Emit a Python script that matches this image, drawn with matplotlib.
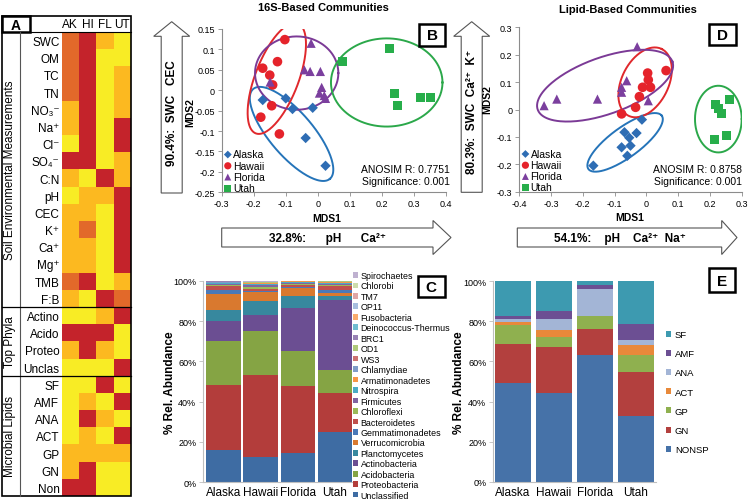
import numpy as np
import matplotlib
matplotlib.use('Agg')
import matplotlib.pyplot as plt
from matplotlib.colors import ListedColormap
from matplotlib.patches import Rectangle, Polygon
from matplotlib.ticker import FuncFormatter

plt.rcParams['font.family'] = ['Liberation Sans', 'DejaVu Sans']

# ---------------- data ----------------
sites = ['Alaska', 'Hawaii', 'Florida', 'Utah']
site_codes = ['AK', 'HI', 'FL', 'UT']

# panel A: heatmap levels (0 = yellow, 1 = gold, 2 = orange, 3 = red)
heat_rows = ['SWC', 'OM', 'TC', 'TN', 'NO₃⁻', 'Na⁺', 'Cl⁻', 'SO₄⁻', 'C:N', 'pH',
             'CEC', 'K⁺', 'Ca⁺', 'Mg⁺', 'TMB', 'F:B',
             'Actino', 'Acido', 'Proteo', 'Unclas',
             'SF', 'AMF', 'ANA', 'ACT', 'GP', 'GN', 'Non']
heat_ak = [2, 2, 2, 2, 1, 1, 0, 3, 1, 0, 1, 1, 1, 1, 2, 1, 0, 3, 1, 0, 0, 0, 0, 0, 1, 1, 3]
heat_hi = [3, 3, 3, 3, 3, 3, 3, 3, 0, 1, 1, 2, 1, 1, 3, 0, 0, 3, 3, 0, 0, 1, 3, 1, 1, 3, 3]
heat_fl = [1, 0, 0, 0, 0, 0, 0, 0, 3, 1, 0, 0, 0, 0, 0, 3, 1, 3, 1, 0, 3, 0, 1, 0, 1, 0, 0]
heat_ut = [0, 0, 1, 1, 1, 3, 3, 1, 1, 3, 3, 3, 3, 3, 1, 2, 3, 0, 0, 3, 0, 3, 0, 3, 1, 0, 0]
heat_colors = ['#F8EC25', '#FCB920', '#E2692A', '#C4232B']

# panel B: 16S NMDS
b_alaska_x = [-0.172, -0.100, -0.079, -0.016, -0.038, 0.024]
b_alaska_y = [-0.024, -0.020, -0.046, -0.043, -0.117, -0.185]
b_hawaii_x = [-0.103, -0.126, -0.172, -0.150, -0.141, -0.144, -0.178, -0.120]
b_hawaii_y = [0.124, 0.070, 0.054, 0.037, 0.013, -0.038, -0.066, -0.107]
b_florida_x = [-0.021, -0.042, -0.024, 0.008, 0.012, 0.005, 0.020, 0.024, -0.149]
b_florida_y = [0.115, 0.050, 0.046, 0.046, 0.007, -0.007, -0.013, -0.020, 0.020]
b_utah_x = [0.078, 0.225, 0.238, 0.248, 0.319, 0.352]
b_utah_y = [0.070, 0.103, -0.008, -0.038, -0.017, -0.017]
# ellipses: centre, semi-axis vector 1, semi-axis vector 2 (data units)
b_ell_alaska = [(-0.082, -0.107), (0.1197, -0.110), (0.0515, 0.0344)]
b_ell_hawaii = [(-0.128, 0.029), (0.0656, 0.1347), (0.0632, -0.0189)]
b_ell_florida = [(-0.066, 0.042), (0.130, 0.0), (0.0, 0.0898)]
b_ell_utah = [(0.215, 0.019), (0.174, 0.0), (0.0, 0.108)]

# panel D: lipid NMDS
d_alaska_x = [-0.014, -0.069, -0.031, -0.054, -0.078, -0.050, -0.060, -0.167]
d_alaska_y = [-0.037, -0.083, -0.086, -0.103, -0.138, -0.132, -0.169, -0.205]
d_hawaii_x = [0.062, 0.004, 0.006, -0.012, 0.013, -0.022, -0.034, -0.078]
d_hawaii_y = [0.142, 0.133, 0.108, 0.081, 0.081, 0.047, 0.008, -0.016]
d_florida_x = [-0.029, -0.062, -0.078, -0.078, 0.006, -0.154, -0.282, -0.322]
d_florida_y = [0.229, 0.105, 0.081, 0.063, 0.032, 0.038, 0.038, 0.014]
d_utah_x = [0.261, 0.219, 0.226, 0.237, 0.251, 0.213]
d_utah_y = [0.038, 0.020, 0.002, -0.016, -0.096, -0.111]
d_ell_alaska = [(-0.067, -0.120), (0.1154, 0.0974), (0.0278, -0.0443)]
d_ell_hawaii = [(-0.004, 0.099), (0.0525, 0.1217), (0.0657, -0.0381)]
d_ell_florida = [(-0.130, 0.087), (0.212, 0.0876), (0.030, -0.0974)]
d_ell_utah = [(0.2265, -0.035), (0.0735, 0.0), (0.0, 0.1217)]

# panel C: phyla relative abundance (%), bottom to top
phyla = ['Unclassified', 'Proteobacteria', 'Acidobacteria', 'Actinobacteria',
         'Planctomycetes', 'Verrucomicrobia', 'Gemmatimonadetes', 'Bacteroidetes',
         'Chloroflexi', 'Firmicutes', 'Nitrospira', 'Armatimonadetes', 'Chlamydiae',
         'WS3', 'OD1', 'BRC1', 'Deinococcus-Thermus', 'Fusobacteria', 'OP11', 'TM7',
         'Chlorobi', 'Spirochaetes']
phyla_abund = [
    [16.0, 12.4, 14.5, 25.1],
    [32.4, 40.8, 33.1, 19.2],
    [21.8, 22.0, 17.7, 11.6],
    [10.0, 7.8, 21.1, 34.7],
    [5.3, 7.1, 6.2, 2.0],
    [7.9, 4.1, 3.6, 1.4],
    [2.1, 0.8, 0.8, 1.5],
    [1.7, 1.0, 0.9, 2.0],
    [0.8, 1.1, 0.6, 0.6],
    [0.5, 0.9, 0.5, 0.4],
    [0.3, 0.4, 0.4, 0.3],
    [0.3, 0.3, 0.3, 0.4],
    [0.2, 0.2, 0.1, 0.2],
    [0.2, 0.2, 0.05, 0.2],
    [0.1, 0.1, 0.05, 0.1],
    [0.1, 0.1, 0.04, 0.1],
    [0.1, 0.1, 0.02, 0.1],
    [0.05, 0.0, 0.01, 0.02],
    [0.05, 0.0, 0.01, 0.02],
    [0.1, 0.0, 0.01, 0.02],
    [0.1, 0.0, 0.01, 0.02],
    [0.1, 0.6, 0.0, 0.02],
]
phyla_colors = ['#3E6CA3', '#B33D3B', '#85A444', '#6B4E92', '#37889E', '#D9792F',
                '#4A79B8', '#C0504D', '#9BBB59', '#8064A2', '#4BACC6', '#F79646',
                '#7F9CC8', '#CD7371', '#AFC97A', '#9983B5', '#6FBDD1', '#F9AB6B',
                '#A7BEDE', '#DFA7A6', '#CDDDAC', '#BFB1D0']

# panel E: lipid groups (%), bottom to top
lipid_groups = ['NONSP', 'GN', 'GP', 'ACT', 'ANA', 'AMF', 'SF']
lipid_nonsp = [49.1, 44.3, 63.4, 32.6]
lipid_gn = [19.6, 23.1, 12.8, 22.0]
lipid_gp = [9.5, 5.0, 6.3, 8.6]
lipid_act = [1.7, 3.5, 0.4, 5.2]
lipid_ana = [1.3, 5.3, 13.3, 2.3]
lipid_amf = [1.7, 4.2, 2.0, 8.0]
lipid_sf = [17.1, 14.6, 1.8, 21.3]
lipid_colors = ['#4672A8', '#B3403E', '#8FB04F', '#E8893A', '#A3B5D6', '#6C4F93', '#3D9AB0']

site_colors = ['#2E6DB4', '#E5232B', '#7B3F9E', '#27AE4A']
ell_colors = ['#2574B9', '#E0282C', '#7B3A96', '#2BA84A']
site_markers = ['D', 'o', '^', 's']
site_sizes = [28, 48, 44, 42]

# ---------------- figure ----------------
W, H = 748, 502
fig = plt.figure(figsize=(W / 100, H / 100), dpi=100)


def rect(x0, y0, x1, y1):
    return [x0 / W, 1 - y1 / H, (x1 - x0) / W, (y1 - y0) / H]


ov = fig.add_axes([0, 0, 1, 1], zorder=5)
ov.set_xlim(0, W)
ov.set_ylim(H, 0)
ov.axis('off')

# ---- panel A ----
axA = fig.add_axes(rect(61.5, 33, 131, 497))
mat = np.array([heat_ak, heat_hi, heat_fl, heat_ut]).T
axA.pcolormesh(mat, cmap=ListedColormap(heat_colors), vmin=-0.5, vmax=3.5)
axA.set_xlim(0, 4)
axA.set_ylim(len(heat_rows), 0)
axA.set_yticks(np.arange(len(heat_rows)) + 0.5)
axA.set_yticklabels(heat_rows, fontsize=8.5)
axA.xaxis.tick_top()
axA.set_xticks(np.arange(4) + 0.5)
axA.set_xticklabels(site_codes, fontsize=8.5)
axA.tick_params(length=0, pad=1.5)
for s in axA.spines.values():
    s.set_visible(False)

row_h = (497 - 33) / len(heat_rows)
ov.add_patch(Rectangle((2, 17), 129, 480, fill=False, lw=1.2, ec='black'))
ov.add_patch(Rectangle((2, 17), 28, 16, fill=False, lw=1.8, ec='black'))
ov.text(16, 25.5, 'A', ha='center', va='center', fontsize=10, fontweight='bold')
ov.plot([30, 131], [33, 33], color='black', lw=0.8)
ov.plot([20, 20], [33, 497], color='#555555', lw=0.8)
for k in [16, 20]:
    ov.plot([2, 131], [33 + k * row_h] * 2, color='black', lw=0.9)
ov.text(10, 33 + 8 * row_h, 'Soil Environmental Measurements', rotation=90,
        ha='center', va='center', fontsize=8.5)
ov.text(10, 33 + 18 * row_h, 'Top Phyla', rotation=90, ha='center', va='center', fontsize=8.5)
ov.text(10, 33 + 23.5 * row_h, 'Microbial Lipids', rotation=90, ha='center', va='center', fontsize=8.5)


# ---- helpers ----
def style_axes(ax):
    for side in ['top', 'right']:
        ax.spines[side].set_visible(False)
    for side in ['left', 'bottom']:
        ax.spines[side].set_color('#8C8C8C')
        ax.spines[side].set_linewidth(0.8)
    ax.tick_params(direction='out', length=3, width=0.6, color='#8C8C8C',
                   labelsize=6.5, pad=2)


def draw_ellipse(ax, ell, color):
    t = np.linspace(0, 2 * np.pi, 200)
    (cx, cy), u, v = ell
    ax.plot(cx + u[0] * np.cos(t) + v[0] * np.sin(t),
            cy + u[1] * np.cos(t) + v[1] * np.sin(t), color=color, lw=1.4)


fmt = FuncFormatter(lambda v, p: '0' if abs(v) < 1e-9 else '{:g}'.format(round(v, 2)))


def scatter_panel(box, xs, ys, ells, xlim, ylim, xticks, yticks):
    ax = fig.add_axes(rect(*box))
    style_axes(ax)
    for i in range(4):
        ax.scatter(xs[i], ys[i], marker=site_markers[i], s=site_sizes[i],
                   color=site_colors[i], edgecolors='none', zorder=3, label=sites[i])
    for i in range(4):
        draw_ellipse(ax, ells[i], ell_colors[i])
    ax.set_xlim(*xlim)
    ax.set_ylim(*ylim)
    ax.set_xticks(xticks)
    ax.set_yticks(yticks)
    ax.xaxis.set_major_formatter(fmt)
    ax.yaxis.set_major_formatter(fmt)
    ax.legend(loc='lower left', bbox_to_anchor=(-0.01, -0.03), frameon=False, fontsize=7.5,
              handletextpad=0.1, labelspacing=0.12, borderaxespad=0, handlelength=0.8,
              markerscale=0.75)
    return ax


axB = scatter_panel((221.7, 30, 446, 193.3),
                    [b_alaska_x, b_hawaii_x, b_florida_x, b_utah_x],
                    [b_alaska_y, b_hawaii_y, b_florida_y, b_utah_y],
                    [b_ell_alaska, b_ell_hawaii, b_ell_florida, b_ell_utah],
                    (-0.3, 0.4), (-0.25, 0.15),
                    np.arange(-0.3, 0.41, 0.1), np.arange(-0.25, 0.151, 0.05))
axD = scatter_panel((519.3, 28.3, 741.7, 192.7),
                    [d_alaska_x, d_hawaii_x, d_florida_x, d_utah_x],
                    [d_alaska_y, d_hawaii_y, d_florida_y, d_utah_y],
                    [d_ell_alaska, d_ell_hawaii, d_ell_florida, d_ell_utah],
                    (-0.4, 0.3), (-0.3, 0.3),
                    np.arange(-0.4, 0.31, 0.1), np.arange(-0.3, 0.31, 0.1))

ov.text(323, 8, '16S-Based Communities', ha='center', va='center', fontsize=8, fontweight='bold')
ov.text(628, 10, 'Lipid-Based Communities', ha='center', va='center', fontsize=8, fontweight='bold')
ov.text(326.7, 219, 'MDS1', ha='center', va='center', fontsize=7.5, fontweight='bold')
ov.text(630, 218, 'MDS1', ha='center', va='center', fontsize=7.5, fontweight='bold')
ov.text(190, 113, 'MDS2', rotation=90, ha='center', va='center', fontsize=7.5, fontweight='bold')
ov.text(487, 100, 'MDS2', rotation=90, ha='center', va='center', fontsize=7.5, fontweight='bold')
ov.text(450, 170, 'ANOSIM R: 0.7751', ha='right', va='center', fontsize=7.5)
ov.text(450, 182, 'Significance: 0.001', ha='right', va='center', fontsize=7.5)
ov.text(742, 170, 'ANOSIM R: 0.8758', ha='right', va='center', fontsize=7.5)
ov.text(742, 182, 'Significance: 0.001', ha='right', va='center', fontsize=7.5)


# block arrows
def v_arrow(cx, tip, base, bottom, text):
    pts = [(cx - 10.5, bottom), (cx - 10.5, base), (cx - 18, base), (cx, tip),
           (cx + 18, base), (cx + 10.5, base), (cx + 10.5, bottom)]
    ov.add_patch(Polygon(pts, closed=True, fc='white', ec='#555555', lw=0.8))
    ov.text(cx + 0.5, (base + bottom) / 2 - 3, text, rotation=90, ha='center', va='center',
            fontsize=8.5, fontweight='bold')


def h_arrow(cy, left, base, tip, text):
    pts = [(left, cy - 9.5), (base, cy - 9.5), (base, cy - 17), (tip, cy),
           (base, cy + 17), (base, cy + 9.5), (left, cy + 9.5)]
    ov.add_patch(Polygon(pts, closed=True, fc='white', ec='#555555', lw=0.8))
    ov.text((left + base) / 2, cy + 0.5, text, ha='center', va='center',
            fontsize=8.5, fontweight='bold')


v_arrow(171.7, 22.7, 37.3, 194, '90.4%:  SWC   CEC')
v_arrow(471.7, 22.7, 37.3, 193.3, '80.3%:  SWC  Ca²⁺  K⁺')
h_arrow(238.5, 221.7, 433, 451, '32.8%:      pH      Ca²⁺')
h_arrow(238.5, 517.3, 721.7, 737, '54.1%:    pH    Ca²⁺  Na⁺')

# panel letter boxes
for (x0, y0, x1, y1, lab) in [(419.3, 25, 445, 46.7, 'B'), (709.3, 25, 736, 46, 'D'),
                              (417.7, 277.3, 445, 298.3, 'C'), (709.3, 269.3, 735, 293.3, 'E')]:
    ov.add_patch(Rectangle((x0, y0), x1 - x0, y1 - y0, fc='white', ec='black', lw=1.8))
    ov.text((x0 + x1) / 2, (y0 + y1) / 2 + 0.5, lab, ha='center', va='center',
            fontsize=11, fontweight='bold')


# ---- panel C ----
def bar_style(ax):
    style_axes(ax)
    ax.spines['bottom'].set_color('#BFBFBF')
    ax.spines['left'].set_color('#BFBFBF')
    ax.set_ylim(0, 100)
    ax.set_yticks(range(0, 101, 20))
    ax.set_yticklabels(['{}%'.format(v) for v in range(0, 101, 20)])
    ax.set_xticks(range(4))
    ax.set_xticklabels(sites, fontsize=8.5)
    ax.tick_params(axis='x', length=0, pad=3)
    ax.tick_params(axis='y', color='#BFBFBF')


axC = fig.add_axes(rect(203.3, 281.7, 353.3, 483.3))
bottom = np.zeros(4)
c_handles = []
for name, vals, col in zip(phyla, phyla_abund, phyla_colors):
    h = axC.bar(range(4), vals, width=0.93, bottom=bottom, color=col, label=name, lw=0)
    c_handles.append(h)
    bottom += np.array(vals)
bar_style(axC)
axC.set_xlim(-0.54, 3.49)
axC.legend(c_handles[::-1], phyla[::-1], loc='upper left', bbox_to_anchor=(353 / W, 1 - 272 / H),
           bbox_transform=fig.transFigure, frameon=False, fontsize=6.4, handlelength=0.55,
           handleheight=0.6, handletextpad=0.3, labelspacing=0.165, borderpad=0, borderaxespad=0)
ov.text(170, 383, '% Rel. Abundance', rotation=90, ha='center', va='center', fontsize=8.5,
        fontweight='bold')

# ---- panel E ----
axE = fig.add_axes(rect(493.3, 282.3, 656, 482.7))
bottom = np.zeros(4)
e_handles = []
for name, vals, col in zip(lipid_groups,
                           [lipid_nonsp, lipid_gn, lipid_gp, lipid_act, lipid_ana, lipid_amf, lipid_sf],
                           lipid_colors):
    h = axE.bar(range(4), vals, width=0.88, bottom=bottom, color=col, label=name, lw=0)
    e_handles.append(h)
    bottom += np.array(vals)
bar_style(axE)
axE.set_xlim(-0.476, 3.492)
axE.legend(e_handles[::-1], lipid_groups[::-1], loc='upper left', bbox_to_anchor=(666 / W, 1 - 331 / H),
           bbox_transform=fig.transFigure, frameon=False, fontsize=6.8, handlelength=0.55,
           handleheight=0.6, handletextpad=0.4, labelspacing=1.08, borderpad=0, borderaxespad=0)
ov.text(459, 383, '% Rel. Abundance', rotation=90, ha='center', va='center', fontsize=8.5,
        fontweight='bold')

fig.savefig('out.png', dpi=100, facecolor='white')
